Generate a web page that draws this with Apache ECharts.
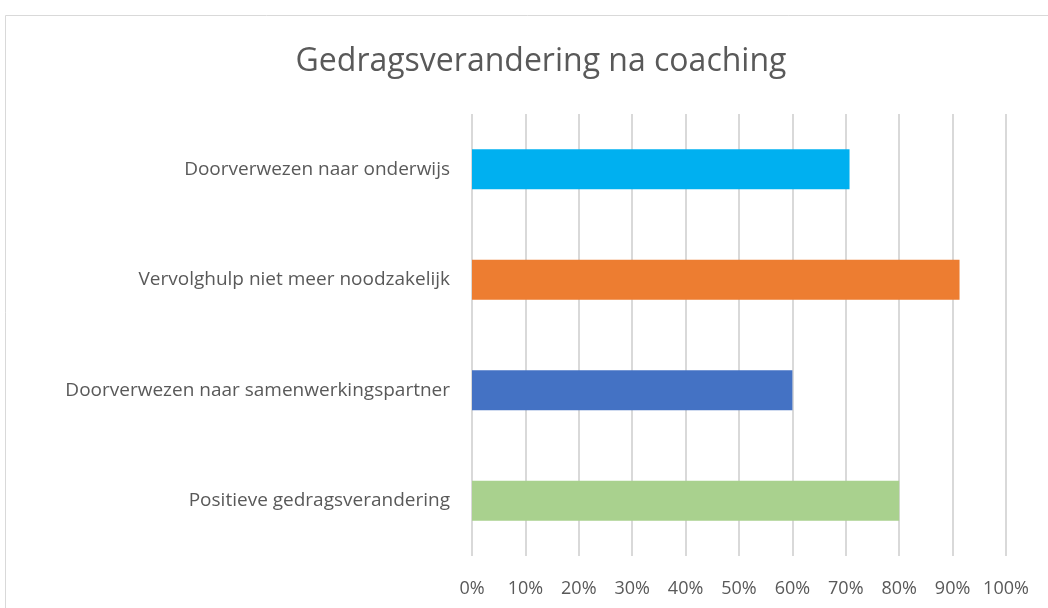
<!DOCTYPE html>
<html><head><meta charset="utf-8">
<script src="https://cdn.jsdelivr.net/npm/echarts@6/dist/echarts.min.js"></script>
<style>html,body{margin:0;padding:0;background:#fff}#c{width:1048px;height:608px}</style>
</head><body><div id="c"></div>
<script>
const titleText = 'Gedragsverandering na coaching';
const categories = ['Doorverwezen naar onderwijs','Vervolghulp niet meer noodzakelijk','Doorverwezen naar samenwerkingspartner','Positieve gedragsverandering'];
const values = [70.7, 91.3, 60, 80];
const barColors = ['#00B0F0','#ED7D31','#4472C4','#A9D18E'];
const FONT = 'Open Sans';
const chart = echarts.init(document.getElementById('c'), null, {renderer:'canvas'});
chart.setOption({
  animation:false,
  backgroundColor:'#fff',
  graphic:[{type:'rect',shape:{x:5.5,y:15.5,width:1100,height:700},style:{fill:'none',stroke:'#d9d9d9',lineWidth:1},silent:true}],
  title:{text:titleText,left:536,textAlign:'center',top:41,textStyle:{fontFamily:FONT,fontSize:32,fontWeight:'normal',color:'#595959'}},
  grid:{left:472,right:42,top:114,bottom:52},
  xAxis:{type:'value',min:0,max:100,interval:10,
    axisLabel:{formatter:'{value}%',fontFamily:FONT,fontSize:18,color:'#595959',margin:24},
    axisLine:{show:false},axisTick:{show:false},
    splitLine:{lineStyle:{color:'#d9d9d9',width:2}}},
  yAxis:{type:'category',inverse:true,data:categories,
    axisLabel:{fontFamily:FONT,fontSize:19,color:'#595959',margin:22},
    axisLine:{show:false},axisTick:{show:false}},
  series:[{type:'bar',barWidth:40,
    data:values.map((v,i)=>({value:v,itemStyle:{color:barColors[i]}}))}]
});
</script></body></html>
